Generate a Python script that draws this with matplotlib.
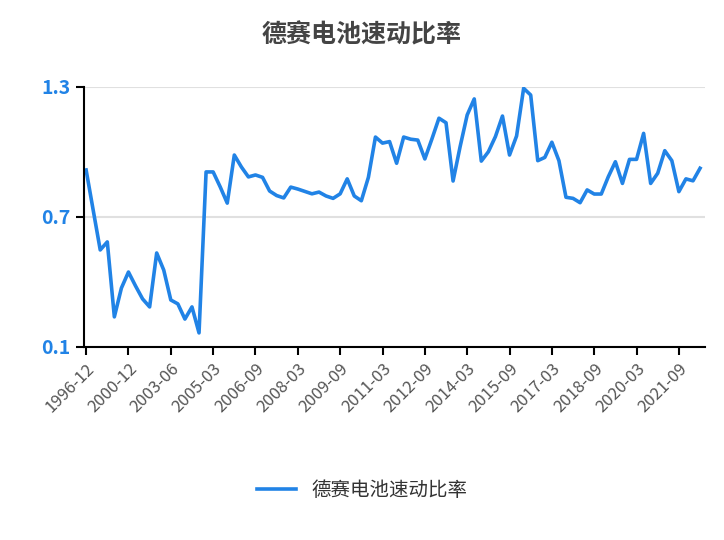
import matplotlib
matplotlib.use("Agg")
import matplotlib.pyplot as plt

plt.rcParams['font.family'] = ['Noto Sans CJK SC', 'DejaVu Sans']

values = [0.917,0.732,0.548,0.585,0.239,0.372,0.446,0.382,0.322,0.285,0.534,0.455,
          0.317,0.299,0.229,0.285,0.165,0.908,0.908,0.839,0.764,0.986,0.931,0.885,
          0.894,0.883,0.820,0.799,0.788,0.838,0.829,0.818,0.807,0.815,0.797,0.786,
          0.807,0.876,0.797,0.775,0.883,1.069,1.041,1.048,0.948,1.069,1.059,1.055,
          0.968,1.060,1.156,1.135,0.866,1.025,1.171,1.245,0.958,1.001,1.071,1.166,
          0.986,1.074,1.294,1.263,0.960,0.975,1.045,0.960,0.791,0.786,0.766,0.825,
          0.806,0.806,0.886,0.955,0.855,0.966,0.966,1.086,0.855,0.902,1.006,0.960,
          0.817,0.876,0.867,0.925]

first = ["1996-12","1997-12","1998-06","1998-12","1999-06","1999-12",
         "2000-12","2001-06","2001-12","2002-06","2002-12","2003-03",
         "2003-06","2003-09","2003-12","2004-06","2004-09","2004-12"]
rest = []
y, m = 2005, 3
while len(first) + len(rest) < len(values):
    rest.append(f"{y}-{m:02d}")
    m += 3
    if m > 12:
        m -= 12
        y += 1
categories = first + rest

blue = "#2183e6"
fig = plt.figure(figsize=(7.24, 5.40), dpi=100)
ax = fig.add_axes([84/724, 1-347/540, 621/724, 260/540])
x = list(range(len(values)))
ax.plot(x, values, color=blue, lw=2.6, label="德赛电池速动比率")
ax.set_ylim(0.1, 1.3)
ax.set_yticks([0.1, 0.7, 1.3])
ax.set_yticklabels(["0.1", "0.7", "1.3"], color=blue, fontsize=14, fontweight="bold")
ax.set_xlim(-0.3, len(values) - 0.3)
ticks = list(range(0, len(values), 6))
ax.set_xticks(ticks)
ax.set_xticklabels([categories[i] for i in ticks], rotation=45, ha="right",
                   rotation_mode="anchor", color="#555555", fontsize=12)
ax.tick_params(axis="y", length=6, width=1.5, color="black")
ax.tick_params(axis="x", length=6, width=1.5, color="black")
ax.grid(axis="y", color="#e0e0e0", lw=1.5)
ax.set_axisbelow(True)
for s in ["top", "right"]:
    ax.spines[s].set_visible(False)
ax.spines["left"].set_linewidth(1.5)
ax.spines["bottom"].set_linewidth(1.5)
fig.text(0.5, 1-35/540, "德赛电池速动比率", ha="center", va="center",
         fontsize=18, fontweight="bold", color="#444444")
fig.legend(loc="center", bbox_to_anchor=(0.5, 1-490/540), frameon=False,
           fontsize=14, handlelength=2, labelcolor="#333333")
fig.savefig("out.png", dpi=100)
